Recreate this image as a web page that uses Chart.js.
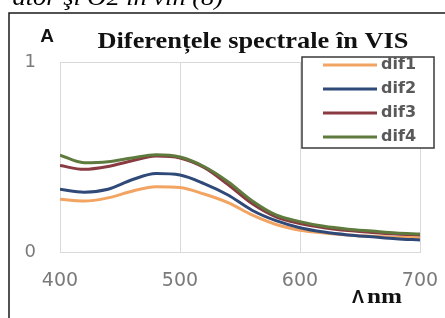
<!DOCTYPE html>
<html>
<head>
<meta charset="utf-8">
<script src="https://cdn.jsdelivr.net/npm/chart.js@4.4.1/dist/chart.umd.min.js"></script>
<style>
  body { margin: 0; background: #fff; }
  #chart { display: block; }
</style>
</head>
<body>
<canvas id="chart" width="445" height="318"></canvas>
<script>
// wavelength (nm) and the four difference spectra
const wavelengths = [400, 420, 440, 460, 480, 500, 520, 540, 560, 580, 600, 620, 640, 660, 680, 700];
const dif1 = [0.277, 0.268, 0.285, 0.32, 0.344, 0.34, 0.305, 0.26, 0.195, 0.145, 0.115, 0.10, 0.09, 0.083, 0.078, 0.075];
const dif2 = [0.33, 0.315, 0.33, 0.38, 0.413, 0.405, 0.36, 0.30, 0.22, 0.165, 0.128, 0.105, 0.09, 0.08, 0.07, 0.063];
const dif3 = [0.455, 0.435, 0.45, 0.48, 0.505, 0.495, 0.445, 0.355, 0.255, 0.185, 0.15, 0.128, 0.113, 0.103, 0.095, 0.09];
const dif4 = [0.51, 0.47, 0.475, 0.495, 0.512, 0.50, 0.45, 0.37, 0.27, 0.195, 0.16, 0.135, 0.12, 0.11, 0.10, 0.095];
const seriesNames = ['dif1', 'dif2', 'dif3', 'dif4'];
const xTicks = [400, 500, 600, 700];
const yTicks = [0, 1];

const colors = ['#f2a463', '#2f4a78', '#8a3b42', '#5f7a3d'];
const allSeries = [dif1, dif2, dif3, dif4];

const datasets = allSeries.map((values, i) => ({
    label: seriesNames[i],
    data: wavelengths.map((w, j) => ({ x: w, y: values[j] })),
    borderColor: colors[i],
    borderWidth: 3,
    pointRadius: 0,
    tension: 0.4,
    cubicInterpolationMode: 'monotone',
    order: 3 - i
}));

// frame, page text, title, axis labels and boxed legend
const decorations = {
    id: 'decorations',
    afterDraw(chart) {
        const ctx = chart.ctx;
        ctx.save();

        // piece of the document caption cut by the top edge
        ctx.save();
        ctx.translate(223, 5);
        ctx.scale(1.1, 1);
        ctx.fillStyle = '#000';
        ctx.font = 'italic 24px "Liberation Serif"';
        ctx.textAlign = 'right';
        ctx.textBaseline = 'alphabetic';
        ctx.fillText('ator şi O2 în vin (8)', 0, 0);
        ctx.restore();

        // black frame around the figure
        ctx.strokeStyle = '#1a1a1a';
        ctx.lineWidth = 1.5;
        ctx.strokeRect(9, 13, 500, 400);

        // "A" axis label
        ctx.font = 'bold 19px "Liberation Sans"';
        ctx.textAlign = 'center';
        ctx.fillStyle = '#111';
        ctx.fillText('A', 47, 42);

        // title
        ctx.save();
        ctx.translate(253, 48);
        ctx.scale(1.1, 1);
        ctx.font = 'bold 24px "Liberation Serif"';
        ctx.fillStyle = '#111';
        ctx.fillText('Diferențele spectrale în VIS', 0, 0);
        ctx.restore();

        // x axis label
        ctx.textAlign = 'left';
        ctx.font = 'bold 18px "Liberation Sans"';
        ctx.fillText('Λ', 352, 303);
        ctx.save();
        ctx.translate(367, 303);
        ctx.scale(1.2, 1);
        ctx.font = 'bold 21px "Liberation Serif"';
        ctx.fillText('nm', 0, 0);
        ctx.restore();

        // legend
        ctx.fillStyle = '#fff';
        ctx.fillRect(302, 57, 132, 91);
        ctx.strokeStyle = '#3a3a3a';
        ctx.lineWidth = 1.5;
        ctx.strokeRect(302, 57, 132, 91);
        ctx.font = 'bold 16px "DejaVu Sans"';
        ctx.textBaseline = 'middle';
        chart.data.datasets.forEach((ds, i) => {
            const y = 65 + i * 24;
            ctx.strokeStyle = ds.borderColor;
            ctx.lineWidth = 3;
            ctx.beginPath();
            ctx.moveTo(323, y);
            ctx.lineTo(377, y);
            ctx.stroke();
            ctx.fillStyle = '#595959';
            ctx.fillText(ds.label, 381, y);
        });

        ctx.restore();
    }
};

new Chart(document.getElementById('chart').getContext('2d'), {
    type: 'line',
    data: { datasets: datasets },
    options: {
        responsive: false,
        animation: false,
        devicePixelRatio: 1,
        layout: { padding: { top: 62, right: 25, left: 0, bottom: 0 } },
        plugins: {
            legend: { display: false },
            tooltip: { enabled: false }
        },
        scales: {
            x: {
                type: 'linear',
                min: 400,
                max: 700,
                afterBuildTicks: (scale) => { scale.ticks = xTicks.map(v => ({ value: v })); },
                afterFit: (scale) => { scale.height = 66; },
                grid: { color: '#d9d9d9', drawTicks: true, tickLength: 18, tickColor: 'rgba(0,0,0,0)' },
                border: { color: '#d9d9d9' },
                ticks: {
                    padding: 0,
                    color: '#7a7a7a',
                    font: { family: 'DejaVu Sans', size: 19 },
                    maxRotation: 0
                }
            },
            y: {
                min: 0,
                max: 1,
                afterBuildTicks: (scale) => { scale.ticks = yTicks.map(v => ({ value: v })); },
                afterFit: (scale) => { scale.width = 60; },
                grid: { color: '#d9d9d9', drawTicks: false },
                border: { color: '#d9d9d9' },
                ticks: {
                    padding: 24,
                    color: '#7a7a7a',
                    font: { family: 'DejaVu Sans', size: 18 }
                }
            }
        }
    },
    plugins: [decorations]
});
</script>
</body>
</html>
